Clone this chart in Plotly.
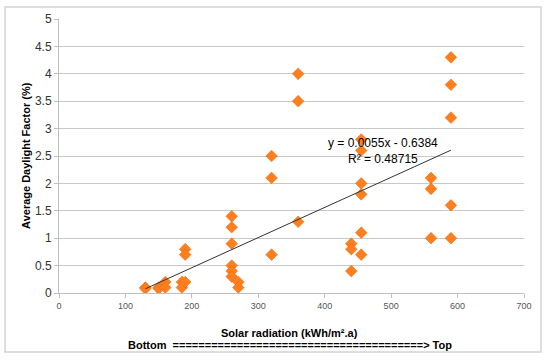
import plotly.graph_objects as go

solar_x = [130, 130, 150, 150, 160, 160, 185, 185, 190, 190, 190,
           260, 260, 260, 260, 260, 260, 270, 270,
           320, 320, 320, 360, 360, 360,
           440, 440, 440, 455, 455, 455, 455, 455, 455,
           560, 560, 560, 590, 590, 590, 590, 590]
daylight_y = [0.1, 0.08, 0.1, 0.08, 0.2, 0.1, 0.2, 0.1, 0.8, 0.7, 0.2,
              1.4, 1.2, 0.9, 0.5, 0.4, 0.3, 0.2, 0.1,
              2.5, 2.1, 0.7, 4.0, 3.5, 1.3,
              0.9, 0.8, 0.4, 2.8, 2.6, 2.0, 1.8, 1.1, 0.7,
              2.1, 1.9, 1.0, 4.3, 3.8, 3.2, 1.6, 1.0]
slope = 0.0055
intercept = -0.6384
trend_x = [130, 590]
trend_y = [slope * v + intercept for v in trend_x]
eq_text = "y = 0.0055x - 0.6384<br>R² = 0.48715"
x_title = "Solar radiation (kWh/m².a)"
x_subtitle = "Bottom  " + "=" * 39 + "> Top"
y_title = "Average Daylight Factor (%)"
x_ticks = [0, 100, 200, 300, 400, 500, 600, 700]
y_ticks = [0, 0.5, 1, 1.5, 2, 2.5, 3, 3.5, 4, 4.5, 5]

font_fam = "Liberation Sans, Arial, Helvetica, sans-serif"

fig = go.Figure()
fig.add_trace(go.Scatter(
    x=solar_x, y=daylight_y, mode="markers",
    marker=dict(symbol="diamond", size=9, color="#FF7F1E",
                line=dict(color="#E0660A", width=0.5)),
    showlegend=False, hoverinfo="x+y"))
fig.add_trace(go.Scatter(
    x=trend_x, y=trend_y, mode="lines",
    line=dict(color="#333333", width=1), showlegend=False))

fig.add_annotation(x=488, y=2.6, xref="x", yref="y", text=eq_text,
                   showarrow=False, font=dict(family=font_fam, size=12, color="#000000"),
                   align="center", xanchor="center", yanchor="middle")

# axis titles
fig.add_annotation(x=0.496, y=-0.145, xref="paper", yref="paper",
                   text="<b>" + x_title + "</b>", showarrow=False,
                   xanchor="center", yanchor="middle",
                   font=dict(family=font_fam, size=11, color="#000000"))
fig.add_annotation(x=0.496, y=-0.19, xref="paper", yref="paper",
                   text="<b>" + x_subtitle + "</b>", showarrow=False,
                   xanchor="center", yanchor="middle",
                   font=dict(family=font_fam, size=11, color="#000000"))
fig.add_annotation(x=-0.071, y=0.504, xref="paper", yref="paper",
                   text="<b>" + y_title + "</b>", showarrow=False, textangle=-90,
                   xanchor="center", yanchor="middle",
                   font=dict(family=font_fam, size=11, color="#000000"))

# outer border
fig.add_shape(type="rect", xref="paper", yref="paper",
              x0=-0.116, x1=1.0366, y0=-0.2153, y1=1.0438,
              line=dict(color="#D4D4D4", width=1.5), layer="below")

fig.update_layout(
    width=550, height=360,
    margin=dict(l=59, r=26, t=19, b=67),
    paper_bgcolor="white", plot_bgcolor="white",
    font=dict(family=font_fam, color="#333333"),
    xaxis=dict(range=[0, 700], tickvals=x_ticks, showgrid=False, automargin=False,
               showline=True, linecolor="#BFBFBF", linewidth=1,
               ticks="outside", ticklen=4, tickcolor="#BFBFBF",
               tickfont=dict(size=9, color="#555555"), zeroline=False),
    yaxis=dict(range=[0, 5], tickvals=y_ticks, showgrid=True, gridcolor="#C8C8C8",
               automargin=False,
               showline=True, linecolor="#BFBFBF", linewidth=1,
               ticks="outside", ticklen=4, tickcolor="#BFBFBF",
               tickfont=dict(size=12, color="#333333"), zeroline=False),
)

fig.write_html("out.html", config={"displayModeBar": False},
               post_script="document.body.style.margin='0';document.body.style.overflow='hidden';")
